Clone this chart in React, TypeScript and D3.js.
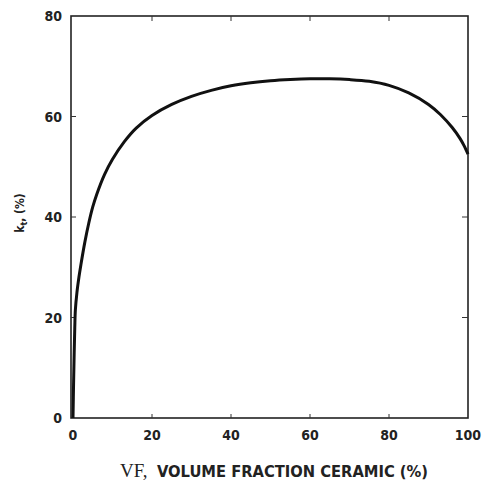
import React from 'react';
import * as d3 from 'd3';

// k_t vs volume fraction ceramic
const vfValues = [0, 0.15, 0.3, 0.45, 0.6, 1, 1.5, 2, 3, 4, 5, 6, 8, 10, 13, 16, 20, 25, 30, 35, 40, 45, 50, 55, 60, 65, 70, 75, 80, 85, 90, 93, 96, 98, 99, 100];
const ktValues = [0, 7, 13, 18, 21.5, 25, 28, 30.5, 35, 38.8, 42, 44.5, 48.5, 51.5, 55, 57.7, 60.2, 62.4, 64, 65.2, 66.1, 66.7, 67.1, 67.35, 67.5, 67.5, 67.35, 67, 66.2, 64.7, 62.4, 60.4, 57.8, 55.6, 54.2, 52.5];

const xTicks = [0, 20, 40, 60, 80, 100];
const yTicks = [0, 20, 40, 60, 80];

const W = 485;
const H = 486;
const margin = { top: 16, right: 17, bottom: 68, left: 71 };
const font = "'DejaVu Sans Condensed', 'Liberation Sans Narrow', sans-serif";

const App: React.FC = () => {
  const x = d3.scaleLinear().domain([0, 100]).range([margin.left + 2, W - margin.right]);
  const y = d3.scaleLinear().domain([0, 80]).range([H - margin.bottom, margin.top]);

  const points = vfValues.map((v, i) => [v, ktValues[i]] as [number, number]);
  const line = d3
    .line<[number, number]>()
    .x((d) => x(d[0]))
    .y((d) => y(d[1]))
    .curve(d3.curveCatmullRom.alpha(0.5));

  const left = margin.left;
  const right = W - margin.right;
  const top = margin.top;
  const bottom = H - margin.bottom;

  return (
    <svg width={W} height={H} style={{ position: 'absolute', left: 0, top: 0, background: '#fff' }}>
      <rect x={left} y={top} width={right - left} height={bottom - top} fill="none" stroke="#222" strokeWidth={1.6} />

      {/* inward ticks */}
      {xTicks.slice(1, -1).map((t) => (
        <g key={'xt' + t}>
          <line x1={x(t)} x2={x(t)} y1={bottom} y2={bottom - 4} stroke="#333" strokeWidth={1} />
          <line x1={x(t)} x2={x(t)} y1={top} y2={top + 5} stroke="#333" strokeWidth={1} />
        </g>
      ))}
      {yTicks.slice(1, -1).map((t) => (
        <g key={'yt' + t}>
          <line x1={left} x2={left + 5} y1={y(t)} y2={y(t)} stroke="#333" strokeWidth={1} />
          <line x1={right} x2={right - 6} y1={y(t)} y2={y(t)} stroke="#333" strokeWidth={1} />
        </g>
      ))}

      {xTicks.map((t) => (
        <text key={'xl' + t} x={x(t)} y={bottom + 22} textAnchor="middle" fontFamily={font} fontWeight="bold" fontSize={14} fill="#222">
          {t}
        </text>
      ))}
      {yTicks.map((t) => (
        <text key={'yl' + t} x={left - 9} y={y(t) + 5} textAnchor="end" fontFamily={font} fontWeight="bold" fontSize={14} fill="#222">
          {t}
        </text>
      ))}

      <path d={line(points) ?? ''} fill="none" stroke="#111" strokeWidth={3} strokeLinejoin="round" />

      <text transform={`translate(24, 213) rotate(-90)`} textAnchor="middle" fontFamily={font} fontWeight="bold" fontSize={12} fill="#222">
        k<tspan fontSize={9} dy={3}>t</tspan><tspan dy={-3}>, (%)</tspan>
      </text>

      <text x={120} y={477} fontSize={19} fill="#222" fontFamily="'Liberation Serif', 'DejaVu Serif', serif">
        VF,
      </text>
      <text x={157} y={477} fontFamily={font} fontWeight="bold" fontSize={16} fill="#222" textLength={271} lengthAdjust="spacingAndGlyphs">
        VOLUME FRACTION CERAMIC (%)
      </text>
    </svg>
  );
};

export default App;
